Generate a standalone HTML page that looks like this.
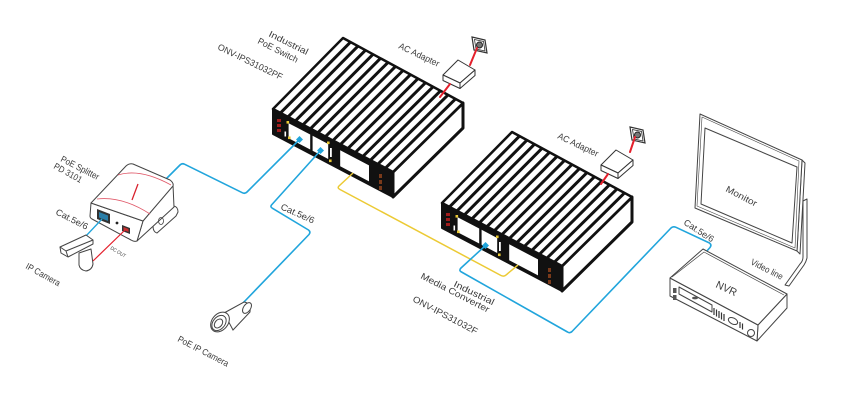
<!DOCTYPE html>
<html><head><meta charset="utf-8">
<style>
html,body{margin:0;padding:0;background:#fff;}
svg{display:block;}
text{font-family:"Liberation Sans",sans-serif;fill:#3a3a3a;font-size:9px;}
</style></head>
<body>
<svg width="841" height="418" viewBox="0 0 841 418" xmlns="http://www.w3.org/2000/svg">
<rect width="841" height="418" fill="#fff"/>
<defs>
<g id="box">
  <polygon points="393,172 463,103 463,128 393,197" fill="#fff" stroke="#111" stroke-width="3" stroke-linejoin="round"/>
  <polygon points="273,109 393,172 393,197 273,134" fill="#111" stroke="#111" stroke-width="2" stroke-linejoin="round"/>
  <polygon points="343,38 463,103 393,172 273,109" fill="#fff" stroke="#111" stroke-width="2.5" stroke-linejoin="round"/>
  <g stroke="#111" stroke-width="3">
    <line x1="350.5" y1="42.1" x2="280.5" y2="112.9"/>
    <line x1="358" y1="46.1" x2="288" y2="116.9"/>
    <line x1="365.5" y1="50.2" x2="295.5" y2="120.8"/>
    <line x1="373" y1="54.3" x2="303" y2="124.8"/>
    <line x1="380.5" y1="58.3" x2="310.5" y2="128.7"/>
    <line x1="388" y1="62.4" x2="318" y2="132.6"/>
    <line x1="395.5" y1="66.4" x2="325.5" y2="136.6"/>
    <line x1="403" y1="70.5" x2="333" y2="140.5"/>
    <line x1="410.5" y1="74.6" x2="340.5" y2="144.4"/>
    <line x1="418" y1="78.6" x2="348" y2="148.4"/>
    <line x1="425.5" y1="82.7" x2="355.5" y2="152.3"/>
    <line x1="433" y1="86.8" x2="363" y2="156.3"/>
    <line x1="440.5" y1="90.8" x2="370.5" y2="160.2"/>
    <line x1="448" y1="94.9" x2="378" y2="164.1"/>
    <line x1="455.5" y1="98.9" x2="385.5" y2="168.1"/>
  </g>
  <!-- windows -->
  <polygon points="288.6,123.2 310.2,134.5 310.2,149.5 288.6,138.2" fill="#fff"/>
  <polygon points="312.6,135.8 328.2,144 328.2,159 312.6,150.8" fill="#fff"/>
  <polygon points="340.2,150.3 369,165.4 369,181.4 340.2,166.3" fill="#fff"/>
  <!-- yellow leds -->
  <g fill="#e8c832">
    <rect x="286.5" y="121" width="2.6" height="2.6"/>
    <rect x="288" y="136.5" width="2.6" height="2.6"/>
    <rect x="327" y="141.5" width="2.6" height="2.6"/>
    <rect x="329" y="159.5" width="2.6" height="2.6"/>
  </g>
  <g fill="#fff">
    <rect x="284.5" y="131.5" width="1.6" height="5"/>
    <rect x="330" y="148" width="1.8" height="9"/>
  </g>
  <!-- red label marks -->
  <g fill="#a01c1c">
    <rect x="277" y="119" width="4" height="3"/>
    <rect x="277" y="124" width="4" height="3"/>
    <rect x="277" y="129" width="4" height="3"/>
  </g>
  <g fill="#7a3a1a">
    <rect x="379" y="174" width="3" height="4"/>
    <rect x="379" y="180" width="3" height="4"/>
    <rect x="379" y="186" width="3" height="4"/>
  </g>
</g>
<g id="adapter">
  <polygon points="443,75 458,60 475,70 460,83" fill="#fff" stroke="#333" stroke-width="1" stroke-linejoin="round"/>
  <polygon points="443,75 460,83 460,88.5 443,80.5" fill="#fff" stroke="#333" stroke-width="1" stroke-linejoin="round"/>
  <polygon points="460,83 475,70 475,75.5 460,88.5" fill="#fff" stroke="#333" stroke-width="1" stroke-linejoin="round"/>
  <polygon points="472,37 485,40 487,53 474,50" fill="#fff" stroke="#333" stroke-width="1.2"/>
  <polygon points="474.5,39.5 483.5,41.5 485,51 476,49" fill="#fff" stroke="#333" stroke-width="0.8"/>
  <circle cx="479.5" cy="45" r="3" fill="#777" stroke="#222" stroke-width="1"/>
</g>
</defs>

<!-- Switch -->
<use href="#box"/>
<!-- Converter -->
<use href="#box" transform="translate(169,94)"/>

<!-- adapters -->
<use href="#adapter"/>
<use href="#adapter" transform="translate(158,90)"/>
<g stroke="#e4202c" stroke-width="2" fill="none" stroke-linecap="round">
  <path d="M477,48 L470,65"/>
  <path d="M450,84 L440,97"/>
  <path d="M635,137 L630,152"/>
  <path d="M608,174 L601,184"/>
</g>

<!-- yellow fiber -->
<path d="M353,173 L339,186 Q337,188 340,189.5 L501,275.5 Q504,277 506,275 L518,265" fill="none" stroke="#ecca34" stroke-width="1.5"/>

<!-- blue cables -->
<g fill="none" stroke="#21a5dc" stroke-width="1.6" stroke-linejoin="round">
  <path d="M299.5,139.5 L247,192 Q245,194 242.5,192.8 L184.5,164.2 Q182,163 180,165 L166,179"/>
  <path d="M320.5,150.5 L271.5,205 Q270,207 272.5,208.3 L308.5,230 Q311,232 309,234.5 L243,303"/>
  <path d="M485.5,245.5 L461,268 Q458.5,270.5 461.5,272 L567.5,332 Q570,333.5 572,331.5 L671,228 Q673,226 676,227.3 L709.5,243 Q712,245 710,247.5 L706,252"/>
</g>
<!-- port squares -->
<g fill="#21a5dc">
  <polygon points="299.5,136 303,139.5 299.5,143 296,139.5"/>
  <polygon points="320.5,147 324,150.5 320.5,154 317,150.5"/>
  <polygon points="485.5,242 489,245.5 485.5,249 482,245.5"/>
</g>

<!-- PoE splitter -->
<g fill="#fff" stroke="#444" stroke-width="1" stroke-linejoin="round">
  <path d="M153,226 L174,206 Q178,207 178,212 L176,216 L157,233 Q153,232 153,226 Z"/>
  <path d="M143,221 L173,185 L174,207 L137,241 Z"/>
  <path d="M91,203 L143,221 L137,241 Q134,242 131,240 L92,219 Q90,218 90,216 Z"/>
  <path d="M91,203 L126,166 Q129,163 133,164 L170,180 Q174,183 173,186 L143,221 Z"/>
</g>
<ellipse cx="161" cy="221" rx="2.5" ry="3.5" fill="none" stroke="#444" stroke-width="0.8"/>
<g fill="none" stroke="#e05a6a" stroke-width="0.8">
  <path d="M118,175 Q140,168 171,185"/>
  <path d="M97,199 Q122,196 150,214"/>
</g>
<path d="M138,184 L132,200" stroke="#d8202c" stroke-width="1.3"/>
<polygon points="97,209 110,214 110,224 97,219" fill="#333"/>
<polygon points="99,212 108,215.5 108,221 99,217.5" fill="#2a7ea8"/>
<circle cx="117" cy="223" r="1.4" fill="#222"/>
<polygon points="122,225 130,228 130,234 122,231" fill="#333"/>
<polygon points="123.5,227 128.5,229 128.5,232 123.5,230" fill="#c83030"/>
<path d="M102,219 L85,237" stroke="#21a5dc" stroke-width="1.3" fill="none"/>
<path d="M125,230 L93,261" stroke="#e4202c" stroke-width="1.2" fill="none"/>

<!-- IP camera -->
<g fill="#fff" stroke="#444" stroke-width="1" stroke-linejoin="round">
  <path d="M79,253 L91,249 L93,264 Q92,270 86,271 Q80,270 79,265 Z"/>
  <path d="M60,247 L86,235 L93,240 L93,244 L68,257 L61,253 Z"/>
  <path d="M66,251 L93,240"/>
  <path d="M60,247 L66,251 L68,257"/>
</g>

<!-- PoE IP camera (bullet) -->
<g fill="#fff" stroke="#444" stroke-width="1">
  <path d="M224,313 L244,302 Q251,303 250,312 L233,330 Z"/>
  <ellipse cx="247" cy="308" rx="3.5" ry="6" transform="rotate(35 247 308)"/>
  <ellipse cx="220" cy="322" rx="8" ry="11" transform="rotate(40 220 322)"/>
  <ellipse cx="219" cy="323" rx="6" ry="8.5" transform="rotate(40 219 323)"/>
  <ellipse cx="218.5" cy="323.5" rx="3.5" ry="5" transform="rotate(40 218.5 323.5)"/>
</g>

<!-- Monitor -->
<g fill="#fff" stroke="#444" stroke-width="1" stroke-linejoin="round">
  <path d="M803,201 L807,199 L807,258 Q806,262 804,265 L789,286 L785,285 L800,264 Q803,261 803,257 Z"/>
  <polygon points="802,160 805,163 800,254 797,251"/>
  <polygon points="700,114 802,160 797,251 695,208"/>
  <polygon points="702,117 799,161 795,248 697,206" fill="none" stroke-width="0.6"/>
  <polygon points="705,128 797,167 792,243 701,204"/>
</g>

<!-- NVR -->
<g fill="#fff" stroke="#444" stroke-width="1" stroke-linejoin="round">
  <polygon points="758,325 787,294 787,308 757,341"/>
  <polygon points="670,278 758,325 757,341 670,296"/>
  <polygon points="703,249 787,294 758,325 670,278"/>
  <polyline points="672,277 704,252 784,295" fill="none" stroke-width="0.7"/>
  <polygon points="679,287 712,305 712,312 679,294"/>
  <rect x="673" y="288" width="3.5" height="5" fill="#555" stroke="none"/>
  <rect x="673" y="295" width="3.5" height="5" fill="#555" stroke="none"/>
  <ellipse cx="695" cy="298" rx="3" ry="1.4" fill="#555" stroke="none"/>
  <ellipse cx="733" cy="321" rx="5" ry="3" transform="rotate(28 733 321)"/>
  <ellipse cx="751" cy="333" rx="3.5" ry="3.5"/>
</g>
<g stroke="#333" stroke-width="1.2">
  <line x1="714" y1="308" x2="714" y2="315"/>
  <line x1="716.5" y1="309.5" x2="716.5" y2="316.5"/>
  <line x1="719" y1="311" x2="719" y2="318"/>
  <line x1="721.5" y1="312.5" x2="721.5" y2="319.5"/>
  <line x1="724" y1="314" x2="724" y2="321"/>
  <line x1="740" y1="322" x2="740" y2="328"/>
  <line x1="742.5" y1="323.5" x2="742.5" y2="329.5"/>
</g>

<!-- Labels -->
<text transform="translate(268,36) rotate(26.3)" textLength="43" lengthAdjust="spacingAndGlyphs">Industrial</text>
<text transform="translate(257,43) rotate(26.9)" textLength="44" lengthAdjust="spacingAndGlyphs">PoE Switch</text>
<text transform="translate(217,49) rotate(26)" textLength="71" lengthAdjust="spacingAndGlyphs">ONV-IPS31032PF</text>
<text transform="translate(398,48) rotate(25.5)" textLength="44" lengthAdjust="spacingAndGlyphs">AC Adapter</text>
<text transform="translate(557,138) rotate(25.5)" textLength="44" lengthAdjust="spacingAndGlyphs">AC Adapter</text>
<text transform="translate(453,286) rotate(26)" textLength="44" lengthAdjust="spacingAndGlyphs">Industrial</text>
<text transform="translate(420,278) rotate(27.2)" textLength="76" lengthAdjust="spacingAndGlyphs">Media Converter</text>
<text transform="translate(412,301) rotate(27.8)" textLength="72" lengthAdjust="spacingAndGlyphs">ONV-IPS31032F</text>
<text transform="translate(725,191) rotate(27.5)" textLength="34" lengthAdjust="spacingAndGlyphs">Monitor</text>
<text transform="translate(715,287) rotate(25)" textLength="22" lengthAdjust="spacingAndGlyphs" style="font-size:10.5px">NVR</text>
<text transform="translate(750,264) rotate(27)" textLength="35" lengthAdjust="spacingAndGlyphs">Video line</text>
<text transform="translate(683,224) rotate(33)" textLength="34" lengthAdjust="spacingAndGlyphs">Cat.5e/6</text>
<text transform="translate(280,209) rotate(24)" textLength="36" lengthAdjust="spacingAndGlyphs">Cat.5e/6</text>
<text transform="translate(55,214) rotate(27)" textLength="35" lengthAdjust="spacingAndGlyphs">Cat.5e/6</text>
<text transform="translate(60,161) rotate(27)" textLength="42" lengthAdjust="spacingAndGlyphs">PoE Splitter</text>
<text transform="translate(53,168) rotate(29)" textLength="31" lengthAdjust="spacingAndGlyphs">PD 3101</text>
<text transform="translate(110,249) rotate(31)" textLength="17" lengthAdjust="spacingAndGlyphs" style="font-size:5px">DC OUT</text>
<text transform="translate(25,268) rotate(29)" textLength="38" lengthAdjust="spacingAndGlyphs">IP Camera</text>
<text transform="translate(177,341) rotate(27.4)" textLength="56" lengthAdjust="spacingAndGlyphs">PoE IP Camera</text>
</svg>
</body></html>
